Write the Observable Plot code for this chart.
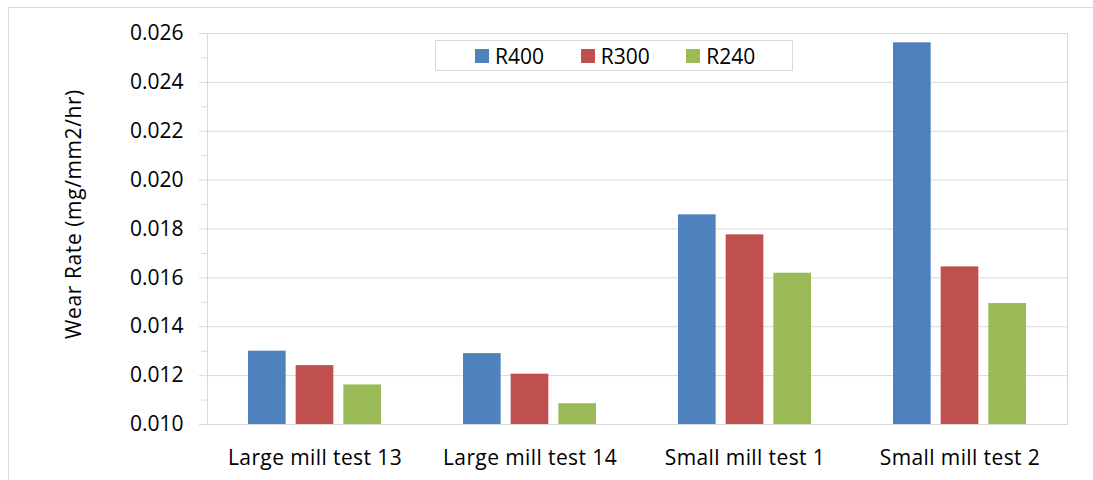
<!DOCTYPE html>
<html>
<head>
<meta charset="utf-8">
<script src="https://cdn.jsdelivr.net/npm/d3@7"></script>
<script src="https://cdn.jsdelivr.net/npm/@observablehq/plot@0.6"></script>
<style>
  html, body { margin: 0; padding: 0; background: #fff; }
  #wrap { position: relative; width: 1093px; height: 480px; overflow: hidden; font-family: "Open Sans", sans-serif; }
  #outer { position: absolute; left: 8px; top: 7px; width: 1200px; height: 600px; border-top: 1px solid #d9d9d9; border-left: 1px solid #d9d9d9; box-sizing: border-box; }
  #legend { position: absolute; left: 435px; top: 40px; width: 358px; height: 31px; box-sizing: border-box; border: 1px solid #d9d9d9; background: #fff; display: flex; align-items: center; padding-left: 39px; }
  .item { display: flex; align-items: center; width: 108.5px; font-size: 21px; color: #000; }
  .sw { width: 14px; height: 14px; margin-right: 6px; }
  svg { position: absolute; left: 0; top: 0; }
</style>
</head>
<body>
<div id="wrap"><div id="outer"></div></div>
<script>
const categories = ["Large mill test 13", "Large mill test 14", "Small mill test 1", "Small mill test 2"];
const series = ["R400", "R300", "R240"];
const colors = ["#4F81BD", "#C0504D", "#9BBB59"];
const r400 = [0.01300, 0.01290, 0.01858, 0.02562];
const r300 = [0.01241, 0.01206, 0.01776, 0.01645];
const r240 = [0.01162, 0.01085, 0.01619, 0.01495];
const yMajor = [0.010, 0.012, 0.014, 0.016, 0.018, 0.020, 0.022, 0.024, 0.026];
const yMinor = [0.011, 0.013, 0.015, 0.017, 0.019, 0.021, 0.023, 0.025];
const yLabel = "Wear Rate (mg/mm2/hr)";
const yMin = 0.010, yMax = 0.026;

const values = [r400, r300, r240];
const data = [];
categories.forEach((c, i) => series.forEach((s, j) => data.push({cat: c, series: s, value: values[j][i]})));

const chart = Plot.plot({
  width: 1093, height: 480,
  marginLeft: 206, marginRight: 26, marginTop: 33, marginBottom: 56,
  style: {fontFamily: "Open Sans, sans-serif", fontSize: "21px", color: "#000", background: "transparent", overflow: "visible"},
  fx: {domain: categories, padding: 0, label: null},
  x: {domain: series, paddingInner: 0.21, paddingOuter: 0.86, round: false, axis: null},
  y: {domain: [yMin, yMax], label: null},
  color: {domain: series, range: colors},
  marks: [
    Plot.gridY(yMajor, {stroke: "#d9d9d9", strokeOpacity: 1, strokeWidth: 1}),
    Plot.axisY(yMajor, {tickSize: 8, tickPadding: 16, stroke: "#d9d9d9", strokeOpacity: 1, fill: "#000", tickFormat: d3.format(".3f"), label: null, fontSize: 21}),
    Plot.axisY(yMinor, {tickSize: 6, stroke: "#d9d9d9", strokeOpacity: 1, tickFormat: () => "", label: null}),
    Plot.axisFx({anchor: "bottom", tickSize: 0, tickPadding: 26, fontSize: 21, fill: "#000", label: null}),
    Plot.rectY(data, {fx: "cat", x: "series", y1: () => yMin, y2: "value", fill: "series"}),
    Plot.frame({facet: "super", stroke: "#d9d9d9"}),
    Plot.text([yLabel], {facet: "super", frameAnchor: "left", textAnchor: "middle", rotate: -90, dx: -133, dy: -15, fontSize: 21, fill: "#000"})
  ]
});
document.getElementById("wrap").appendChild(chart);
d3.select(chart).selectAll('g[aria-label="fx-axis tick label"] text').style("letter-spacing", "0.4px");
d3.select(chart).selectAll("text").filter(function() { return this.textContent === yLabel; }).style("letter-spacing", "0.6px");

const legend = document.createElement("div");
legend.id = "legend";
series.forEach((s, i) => {
  const it = document.createElement("div");
  it.className = "item";
  const sw = document.createElement("div");
  sw.className = "sw";
  sw.style.background = colors[i];
  const t = document.createElement("span");
  t.textContent = s;
  it.appendChild(sw); it.appendChild(t);
  legend.appendChild(it);
});
document.getElementById("wrap").appendChild(legend);
</script>
</body>
</html>
